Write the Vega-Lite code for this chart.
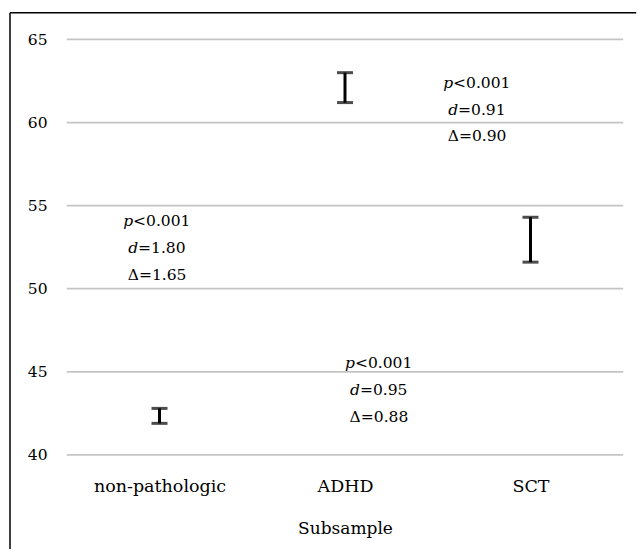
{
  "$schema": "https://vega.github.io/schema/vega-lite/v6.json",
  "width": 629,
  "height": 537,
  "autosize": {"type": "none"},
  "padding": {"left": 10, "top": 12, "right": 0, "bottom": 0},
  "background": "white",
  "config": {
    "view": {"stroke": null},
    "font": "DejaVu Serif",
    "text": {"font": "DejaVu Serif", "fontSize": 15.5, "color": "#000000", "baseline": "alphabetic"}
  },
  "datasets": {
    "bars": [
      {"group": 1, "lo": 41.9, "hi": 42.8},
      {"group": 2, "lo": 61.2, "hi": 63.0},
      {"group": 3, "lo": 51.6, "hi": 54.3}
    ],
    "grid": [{"v": 40}, {"v": 45}, {"v": 50}, {"v": 55}, {"v": 60}, {"v": 65}],
    "frame": [{"top": 66.6, "bottom": 34.34, "left": 0.194, "right": 3.57}],
    "notes": [
      {"x": 0.987, "y": 53.78, "line": "p", "it": "p", "rest": "<0.001"},
      {"x": 0.987, "y": 52.15, "line": "d", "it": "d", "rest": "=1.80"},
      {"x": 0.987, "y": 50.53, "line": "D", "it": "", "rest": "Δ=1.65"},
      {"x": 2.183, "y": 45.23, "line": "p", "it": "p", "rest": "<0.001"},
      {"x": 2.183, "y": 43.61, "line": "d", "it": "d", "rest": "=0.95"},
      {"x": 2.183, "y": 41.99, "line": "D", "it": "", "rest": "Δ=0.88"},
      {"x": 2.712, "y": 62.08, "line": "p", "it": "p", "rest": "<0.001"},
      {"x": 2.712, "y": 60.46, "line": "d", "it": "d", "rest": "=0.91"},
      {"x": 2.712, "y": 58.89, "line": "D", "it": "", "rest": "Δ=0.90"}
    ]
  },
  "layer": [
    {
      "data": {"name": "grid"},
      "mark": {"type": "rule", "color": "#c4c4c4", "strokeWidth": 1.75},
      "encoding": {
        "y": {
          "field": "v", "type": "quantitative",
          "scale": {"domain": [34.34, 66.65], "nice": false, "zero": false},
          "axis": {
            "values": [40, 45, 50, 55, 60, 65],
            "offset": -57,
            "grid": false, "domain": false, "ticks": false, "tickSize": 0,
            "labelPadding": 20,
            "labelFont": "DejaVu Serif", "labelFontSize": 15.5, "labelColor": "#000000",
            "title": null
          }
        },
        "x": {"datum": 0.5, "type": "quantitative"},
        "x2": {"datum": 3.5}
      }
    },
    {
      "data": {"name": "bars"},
      "mark": {"type": "rule", "color": "black", "strokeWidth": 3},
      "encoding": {
        "x": {
          "field": "group", "type": "quantitative",
          "scale": {"domain": [0.194, 3.585], "nice": false, "zero": false},
          "axis": {
            "values": [1, 2, 3],
            "labelExpr": "datum.value == 1 ? 'non-pathologic' : datum.value == 2 ? 'ADHD' : 'SCT'",
            "offset": -94,
            "grid": false, "domain": false, "ticks": false, "tickSize": 0,
            "labelPadding": 36, "labelBaseline": "alphabetic",
            "labelFont": "DejaVu Serif", "labelFontSize": 17.5, "labelColor": "#000000",
            "title": "Subsample",
            "titleFont": "DejaVu Serif", "titleFontSize": 17, "titleFontWeight": "normal", "titleColor": "#000000",
            "titleX": 335, "titleY": 78, "titleBaseline": "alphabetic", "titleAnchor": null, "titleAlign": "center"
          }
        },
        "y": {"field": "lo", "type": "quantitative"},
        "y2": {"field": "hi"}
      }
    },
    {
      "data": {"name": "bars"},
      "mark": {"type": "tick", "color": "black", "orient": "horizontal", "size": 16, "thickness": 3},
      "encoding": {
        "x": {"field": "group", "type": "quantitative"},
        "y": {"field": "lo", "type": "quantitative"}
      }
    },
    {
      "data": {"name": "bars"},
      "mark": {"type": "tick", "color": "black", "orient": "horizontal", "size": 16, "thickness": 3},
      "encoding": {
        "x": {"field": "group", "type": "quantitative"},
        "y": {"field": "hi", "type": "quantitative"}
      }
    },
    {
      "data": {"name": "notes"},
      "transform": [{"filter": "datum.line == 'p'"}],
      "mark": {"type": "text", "align": "right", "dx": -24, "fontStyle": "italic"},
      "encoding": {
        "x": {"field": "x", "type": "quantitative"},
        "y": {"field": "y", "type": "quantitative"},
        "text": {"field": "it"}
      }
    },
    {
      "data": {"name": "notes"},
      "transform": [{"filter": "datum.line == 'p'"}],
      "mark": {"type": "text", "align": "left", "dx": -24},
      "encoding": {
        "x": {"field": "x", "type": "quantitative"},
        "y": {"field": "y", "type": "quantitative"},
        "text": {"field": "rest"}
      }
    },
    {
      "data": {"name": "notes"},
      "transform": [{"filter": "datum.line == 'd'"}],
      "mark": {"type": "text", "align": "right", "dx": -19, "fontStyle": "italic"},
      "encoding": {
        "x": {"field": "x", "type": "quantitative"},
        "y": {"field": "y", "type": "quantitative"},
        "text": {"field": "it"}
      }
    },
    {
      "data": {"name": "notes"},
      "transform": [{"filter": "datum.line == 'd'"}],
      "mark": {"type": "text", "align": "left", "dx": -19},
      "encoding": {
        "x": {"field": "x", "type": "quantitative"},
        "y": {"field": "y", "type": "quantitative"},
        "text": {"field": "rest"}
      }
    },
    {
      "data": {"name": "notes"},
      "transform": [{"filter": "datum.line == 'D'"}],
      "mark": {"type": "text", "align": "center"},
      "encoding": {
        "x": {"field": "x", "type": "quantitative"},
        "y": {"field": "y", "type": "quantitative"},
        "text": {"field": "rest"}
      }
    },
    {
      "data": {"name": "frame"},
      "mark": {"type": "rule", "color": "black", "strokeWidth": 1.5},
      "encoding": {
        "y": {"field": "top", "type": "quantitative"},
        "x": {"field": "left", "type": "quantitative"},
        "x2": {"field": "right"}
      }
    },
    {
      "data": {"name": "frame"},
      "mark": {"type": "rule", "color": "black", "strokeWidth": 1.5},
      "encoding": {
        "x": {"field": "left", "type": "quantitative"},
        "y": {"field": "bottom", "type": "quantitative"},
        "y2": {"field": "top"}
      }
    }
  ]
}
